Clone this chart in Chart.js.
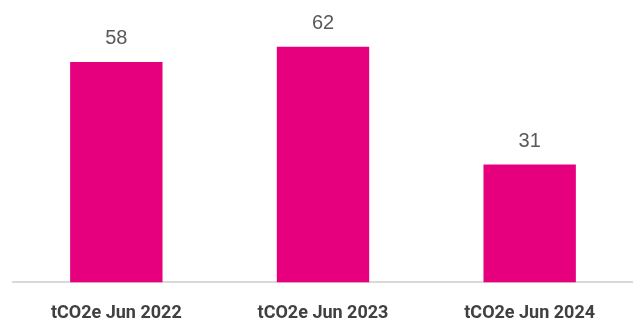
<!DOCTYPE html>
<html>
<head>
<meta charset="utf-8">
<script src="https://cdn.jsdelivr.net/npm/chart.js@4"></script>
<style>
  html, body { margin: 0; padding: 0; background: #fff; }
  #wrap { width: 633px; height: 318px; }
</style>
</head>
<body>
<div id="wrap"><canvas id="myChart"></canvas></div>
<script>
const categories = ["tCO2e Jun 2022", "tCO2e Jun 2023", "tCO2e Jun 2024"];
const emissions = [58, 62, 31];

// draws the value above each bar
const valueLabels = {
  id: "valueLabels",
  afterDatasetsDraw(chart) {
    const ctx = chart.ctx;
    ctx.save();
    ctx.font = "20px 'Liberation Sans', Arial, sans-serif";
    ctx.fillStyle = "#595959";
    ctx.textAlign = "center";
    ctx.textBaseline = "bottom";
    chart.getDatasetMeta(0).data.forEach((bar, i) => {
      ctx.fillText(emissions[i], bar.x, bar.y - 13);
    });
    ctx.restore();
  },
};

const canvasEl = document.getElementById("myChart").getContext("2d");

new Chart(canvasEl, {
  type: "bar",
  data: {
    labels: categories,
    datasets: [
      {
        label: "tCO2e",
        backgroundColor: "#E6007E",
        data: emissions,
        barPercentage: 0.447,
        categoryPercentage: 1,
      },
    ],
  },
  options: {
    responsive: true,
    maintainAspectRatio: false,
    animation: false,
    layout: { padding: { left: 13, right: 0, top: 0, bottom: -26 } },
    plugins: {
      legend: { display: false },
      tooltip: { enabled: false },
    },
    scales: {
      x: {
        grid: { display: false, drawTicks: false },
        border: { display: true, color: "#d9d9d9", width: 2 },
        ticks: {
          color: "#404040",
          padding: 20,
          font: { family: "Roboto, 'Liberation Sans', sans-serif", size: 18, weight: "bold" },
        },
      },
      y: {
        display: false,
        min: 0,
        max: 74.3,
      },
    },
  },
  plugins: [valueLabels],
});
</script>
</body>
</html>
